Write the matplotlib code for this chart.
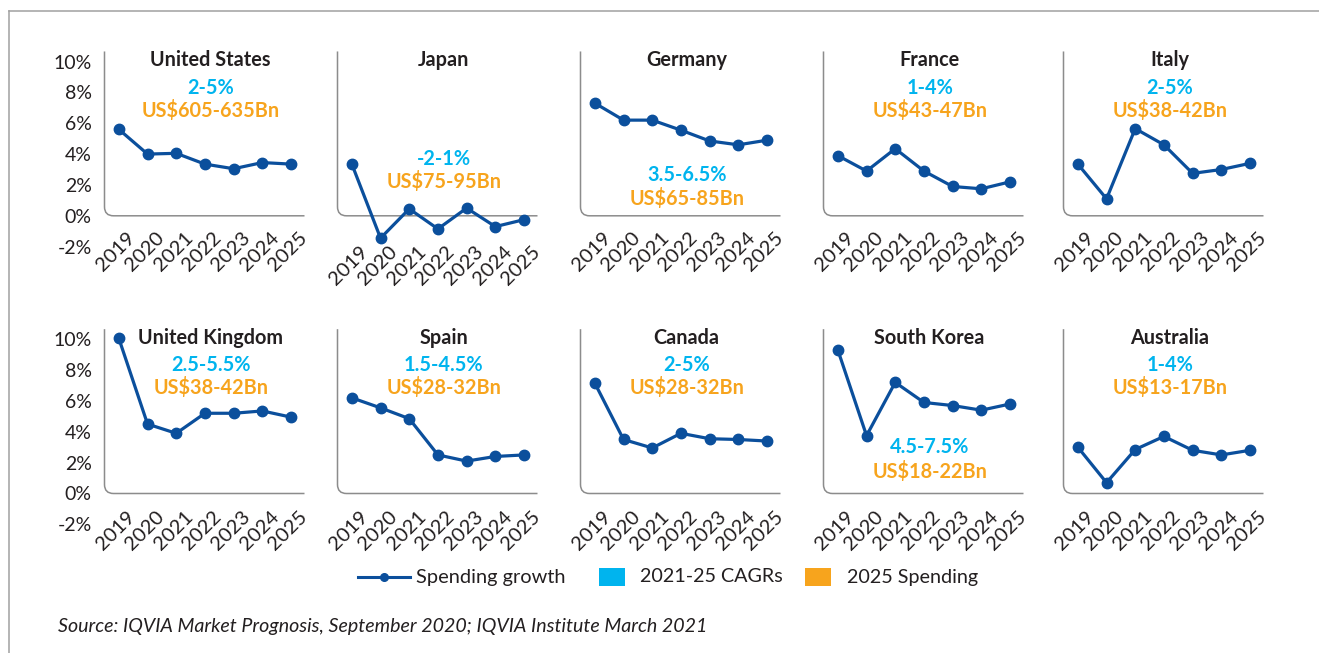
import matplotlib
matplotlib.use('Agg')
import matplotlib.pyplot as plt
from matplotlib.path import Path
from matplotlib.patches import PathPatch, Rectangle
from matplotlib.lines import Line2D

# ---------------- data ----------------
years = ['2019', '2020', '2021', '2022', '2023', '2024', '2025']
countries = ['United States', 'Japan', 'Germany', 'France', 'Italy',
             'United Kingdom', 'Spain', 'Canada', 'South Korea', 'Australia']

growth_us = [5.6, 4.0, 4.05, 3.35, 3.05, 3.45, 3.35]
growth_japan = [3.35, -1.45, 0.45, -0.85, 0.5, -0.7, -0.25]
growth_germany = [7.3, 6.2, 6.2, 5.55, 4.85, 4.6, 4.9]
growth_france = [3.9, 2.9, 4.35, 2.9, 1.9, 1.75, 2.2]
growth_italy = [3.35, 1.1, 5.65, 4.6, 2.75, 3.0, 3.4]
growth_uk = [10.05, 4.5, 3.9, 5.2, 5.2, 5.35, 4.95]
growth_spain = [6.2, 5.55, 4.85, 2.5, 2.1, 2.4, 2.5]
growth_canada = [7.15, 3.5, 2.95, 3.9, 3.55, 3.5, 3.4]
growth_korea = [9.3, 3.75, 7.2, 5.9, 5.7, 5.4, 5.8]
growth_australia = [3.0, 0.7, 2.85, 3.7, 2.8, 2.5, 2.8]

cagr_labels = ['2-5%', '-2-1%', '3.5-6.5%', '1-4%', '2-5%',
               '2.5-5.5%', '1.5-4.5%', '2-5%', '4.5-7.5%', '1-4%']
spend_labels = ['US$605-635Bn', 'US$75-95Bn', 'US$65-85Bn', 'US$43-47Bn', 'US$38-42Bn',
                'US$38-42Bn', 'US$28-32Bn', 'US$28-32Bn', 'US$18-22Bn', 'US$13-17Bn']

ytick_values = [10, 8, 6, 4, 2, 0, -2]
ytick_labels = ['10%', '8%', '6%', '4%', '2%', '0%', '-2%']

legend_labels = ['Spending growth', '2021-25 CAGRs', '2025 Spending']
source_text = 'Source: IQVIA Market Prognosis, September 2020; IQVIA Institute March 2021'

growth = [growth_us, growth_japan, growth_germany, growth_france, growth_italy,
          growth_uk, growth_spain, growth_canada, growth_korea, growth_australia]

# ---------------- style ----------------
FONT = 'Lato'
LINE_C = '#0B4F9C'
CAGR_C = '#00B4EE'
SPEND_C = '#F7A41D'
TEXT_C = '#231F20'
FRAME_C = '#8C8C8C'
BORDER_C = '#A0A0A0'

plt.rcParams['font.family'] = [FONT, 'DejaVu Sans']

W, H = 1319, 653
fig = plt.figure(figsize=(W / 100, H / 100), dpi=100)

col_left = [104.5, 337.5, 580.5, 823.5, 1063.5]
ax_w = 200.0
zero_px = [215.8, 493.5]
px_per_unit = 15.43
y_lo, y_hi = -2.35, 10.65
ax_h = (y_hi - y_lo) * px_per_unit
x_lo, x_hi = -0.5, 6.47

# text placement (data y) per panel: (cagr_y, spend_y)
text_y = {1: (3.7, 2.2), 2: (2.65, 1.15), 8: (3.0, 1.45)}
label_offset = {1: -27.5}

def fx(px):
    return px / W

def fy(py):
    return 1 - py / H

for i, name in enumerate(countries):
    row, col = divmod(i, 5)
    top_px = zero_px[row] - y_hi * px_per_unit
    ax = fig.add_axes([fx(col_left[col]), fy(top_px + ax_h), ax_w / W, ax_h / H])
    ax.set_xlim(x_lo, x_hi)
    ax.set_ylim(y_lo, y_hi)
    for s in ax.spines.values():
        s.set_visible(False)
    ax.set_xticks([])
    if col == 0:
        ax.set_yticks(ytick_values)
        ax.set_yticklabels(ytick_labels)
        ax.tick_params(axis='y', length=0, pad=9.2, labelsize=14, labelcolor=TEXT_C)
    else:
        ax.set_yticks([])

    # rounded L-shaped frame (left spine + zero line)
    y0 = (0 - y_lo) / (y_hi - y_lo)
    r = 9.0
    rx, ry = r / ax_w, r / ax_h
    verts = [(0, 1), (0, y0 + ry), (0, y0), (rx, y0), (1, y0)]
    codes = [Path.MOVETO, Path.LINETO, Path.CURVE3, Path.CURVE3, Path.LINETO]
    ax.add_patch(PathPatch(Path(verts, codes), transform=ax.transAxes, fill=False,
                           edgecolor=FRAME_C, lw=1.1, clip_on=False))

    xs = list(range(len(years)))
    ax.plot(xs, growth[i], color=LINE_C, lw=2.3, marker='o', ms=7.5,
            clip_on=False, zorder=3)

    # x labels (rotated) just below the zero line
    off = label_offset.get(i, -13.5 if row == 0 else -14.5)
    for xi, yr in zip(xs, years):
        ax.annotate(yr, xy=(xi, 0), xytext=(-3, off), textcoords='offset pixels',
                    rotation=45, ha='center', va='top', fontsize=14.5, color=TEXT_C,
                    annotation_clip=False)

    cy, sy = text_y.get(i, (8.3, 6.85))
    tx = 3.2
    ax.text(tx, 10.1, name, ha='center', va='center', fontsize=14.3, fontweight='bold',
            color=TEXT_C)
    ax.text(tx, cy, cagr_labels[i], ha='center', va='center', fontsize=14.3,
            fontweight='bold', color=CAGR_C)
    ax.text(tx, sy, spend_labels[i], ha='center', va='center', fontsize=14.3,
            fontweight='bold', color=SPEND_C)

# ---------------- legend (manual) ----------------
ly = 577
fig.add_artist(Line2D([fx(358), fx(410)], [fy(ly), fy(ly)], color=LINE_C, lw=2.2))
fig.add_artist(Line2D([fx(384)], [fy(ly)], color=LINE_C, marker='o', ms=5.5, lw=0))
fig.text(fx(416), fy(ly), legend_labels[0], ha='left', va='center', fontsize=14.4, color=TEXT_C)
fig.add_artist(Rectangle((fx(599), fy(ly + 9)), 26 / W, 18 / H, transform=fig.transFigure,
                         facecolor=CAGR_C, edgecolor='none'))
fig.text(fx(640), fy(ly), legend_labels[1], ha='left', va='center', fontsize=14.2, color=TEXT_C)
fig.add_artist(Rectangle((fx(805), fy(ly + 9)), 26 / W, 18 / H, transform=fig.transFigure,
                         facecolor=SPEND_C, edgecolor='none'))
fig.text(fx(847), fy(ly), legend_labels[2], ha='left', va='center', fontsize=14.2, color=TEXT_C)

# ---------------- source ----------------
fig.text(fx(58), fy(632), source_text, ha='left', va='baseline', fontsize=14.1,
         style='italic', color=TEXT_C)

# ---------------- outer border ----------------
fig.add_artist(Line2D([fx(9), fx(9)], [0, fy(10.7)], color=BORDER_C, lw=1.1))
fig.add_artist(Line2D([fx(9), 1], [fy(10.7), fy(10.7)], color=BORDER_C, lw=1.1))

fig.savefig('out.png', dpi=100, facecolor='white')
